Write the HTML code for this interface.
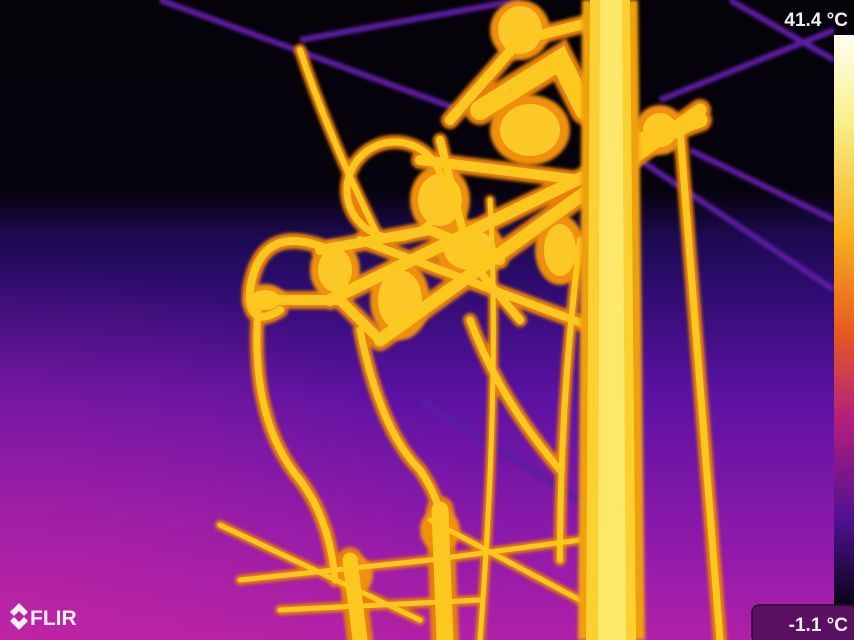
<!DOCTYPE html>
<html><head><meta charset="utf-8"><style>
html,body{margin:0;padding:0;width:854px;height:640px;overflow:hidden;background:#000}
svg{display:block}
</style></head><body>
<svg width="854" height="640" viewBox="0 0 854 640">
<defs>
<linearGradient id="bg" x1="0" y1="0" x2="0" y2="1">
<stop offset="0" stop-color="#050208"/>
<stop offset="0.3" stop-color="#07030e"/>
<stop offset="0.37" stop-color="#1c0a50"/>
<stop offset="0.45" stop-color="#2e0c70"/>
<stop offset="0.62" stop-color="#5c12a2"/>
<stop offset="0.8" stop-color="#8418aa"/>
<stop offset="1" stop-color="#b020a8"/>
</linearGradient>
<radialGradient id="pink" cx="0" cy="1" r="0.6">
<stop offset="0" stop-color="#c828a0" stop-opacity="0.6"/>
<stop offset="1" stop-color="#c828a0" stop-opacity="0"/>
</radialGradient>
<linearGradient id="scale" x1="0" y1="0" x2="0" y2="1">
<stop offset="0" stop-color="#fffff0"/>
<stop offset="0.15" stop-color="#f8f08a"/>
<stop offset="0.35" stop-color="#f8b020"/>
<stop offset="0.52" stop-color="#e85a20"/>
<stop offset="0.68" stop-color="#b01e80"/>
<stop offset="0.85" stop-color="#501090"/>
<stop offset="1" stop-color="#0a0418"/>
</linearGradient>
<filter id="blur"><feGaussianBlur stdDeviation="1.5"/></filter>
</defs>
<rect width="854" height="640" fill="url(#bg)"/>
<rect width="854" height="640" fill="url(#pink)"/>
<g stroke="#5a1aa0" stroke-width="6" fill="none" filter="url(#blur)">
<line x1="160" y1="0" x2="460" y2="110"/>
<line x1="300" y1="40" x2="520" y2="0"/>
<line x1="640" y1="160" x2="834" y2="290"/>
<line x1="690" y1="150" x2="834" y2="220"/>
<line x1="660" y1="100" x2="834" y2="30"/>
<line x1="730" y1="0" x2="834" y2="60"/>
<line x1="420" y1="400" x2="580" y2="500"/>
</g>
<g stroke="#e8800a" fill="none" stroke-linecap="round" filter="url(#blur)">
<path d="M300 50 Q330 140 380 240" stroke-width="12"/>
<path d="M380 340 L700 110" stroke-width="22"/>
<path d="M330 300 L690 125" stroke-width="20"/>
<path d="M360 240 L600 330" stroke-width="16"/>
<path d="M450 120 L520 40 L600 20" stroke-width="18"/>
<circle cx="395" cy="190" r="48" stroke-width="14"/>
<path d="M330 250 Q260 220 250 290 Q248 330 280 310" stroke-width="16"/>
<path d="M258 310 Q250 420 300 480 Q330 520 335 580" stroke-width="14"/>
<path d="M360 330 Q380 430 420 470 Q440 500 440 520" stroke-width="14"/>
<path d="M470 320 Q500 400 560 470" stroke-width="14"/>
<path d="M490 200 Q500 380 480 640" stroke-width="10"/>
<path d="M580 240 Q560 400 560 560" stroke-width="12"/>
<path d="M220 525 L420 620" stroke-width="10"/>
<path d="M240 580 L430 560 L580 540" stroke-width="10"/>
<path d="M440 510 L445 640" stroke-width="28"/>
<path d="M350 560 L360 640" stroke-width="26"/>
<path d="M280 610 L480 600" stroke-width="10"/>
<path d="M430 520 L580 600" stroke-width="10"/>
<path d="M480 110 L560 60 L585 110" stroke-width="30"/>
<path d="M440 140 L470 260 L520 320" stroke-width="14"/>
<path d="M680 130 L720 640" stroke-width="14"/>
<path d="M640 140 L700 120" stroke-width="24"/>
<path d="M260 300 L340 300 L380 340" stroke-width="18"/>
<path d="M320 250 L430 230 L500 260" stroke-width="18"/>
<path d="M420 160 L580 180" stroke-width="18"/>
</g>
<g fill="#f09010" filter="url(#blur)">
<ellipse cx="265" cy="300" rx="22" ry="16"/>
<ellipse cx="335" cy="270" rx="25" ry="30"/>
<ellipse cx="400" cy="300" rx="30" ry="40"/>
<ellipse cx="440" cy="200" rx="30" ry="35"/>
<ellipse cx="470" cy="250" rx="35" ry="30"/>
<ellipse cx="530" cy="130" rx="40" ry="35"/>
<ellipse cx="520" cy="30" rx="30" ry="30"/>
<ellipse cx="560" cy="250" rx="25" ry="35"/>
<ellipse cx="660" cy="130" rx="25" ry="25"/>
<ellipse cx="440" cy="530" rx="20" ry="22"/>
<ellipse cx="355" cy="575" rx="18" ry="20"/>
</g>
<g fill="#fcc828">
<ellipse cx="265" cy="300" rx="15" ry="10"/>
<ellipse cx="335" cy="270" rx="17" ry="22"/>
<ellipse cx="400" cy="300" rx="22" ry="30"/>
<ellipse cx="440" cy="200" rx="22" ry="26"/>
<ellipse cx="470" cy="250" rx="26" ry="20"/>
<ellipse cx="530" cy="130" rx="30" ry="26"/>
<ellipse cx="520" cy="30" rx="22" ry="24"/>
<ellipse cx="560" cy="250" rx="16" ry="26"/>
<ellipse cx="660" cy="130" rx="17" ry="17"/>
</g>
<g stroke="#fcc820" fill="none" stroke-linecap="round">
<path d="M300 50 Q330 140 380 240" stroke-width="6"/>
<path d="M380 340 L700 110" stroke-width="13"/>
<path d="M330 300 L690 125" stroke-width="12"/>
<path d="M360 240 L600 330" stroke-width="8"/>
<path d="M450 120 L520 40 L600 20" stroke-width="10"/>
<circle cx="395" cy="190" r="48" stroke-width="7"/>
<path d="M330 250 Q260 220 250 290 Q248 330 280 310" stroke-width="8"/>
<path d="M258 310 Q250 420 300 480 Q330 520 335 580" stroke-width="7"/>
<path d="M360 330 Q380 430 420 470 Q440 500 440 520" stroke-width="7"/>
<path d="M470 320 Q500 400 560 470" stroke-width="7"/>
<path d="M490 200 Q500 380 480 640" stroke-width="5"/>
<path d="M580 240 Q560 400 560 560" stroke-width="6"/>
<path d="M220 525 L420 620" stroke-width="5"/>
<path d="M240 580 L430 560 L580 540" stroke-width="5"/>
<path d="M440 510 L445 640" stroke-width="17"/>
<path d="M350 560 L360 640" stroke-width="15"/>
<path d="M280 610 L480 600" stroke-width="5"/>
<path d="M430 520 L580 600" stroke-width="5"/>
<path d="M480 110 L560 60 L585 110" stroke-width="20"/>
<path d="M440 140 L470 260 L520 320" stroke-width="8"/>
<path d="M680 130 L720 640" stroke-width="7"/>
<path d="M640 140 L700 120" stroke-width="15"/>
<path d="M260 300 L340 300 L380 340" stroke-width="10"/>
<path d="M320 250 L430 230 L500 260" stroke-width="10"/>
<path d="M420 160 L580 180" stroke-width="10"/>
</g>
<g>
<polygon points="582,0 638,0 645,640 578,640" fill="#f0a010" filter="url(#blur)"/>
<polygon points="590,0 630,0 636,640 586,640" fill="#fbd030"/>
<polygon points="600,0 622,0 626,640 598,640" fill="#fde86a"/>
</g>
<rect x="834" y="35" width="20" height="570" fill="url(#scale)"/>
<text x="848" y="26" text-anchor="end" font-family="Liberation Sans, sans-serif" font-weight="bold" font-size="19" fill="#f0f0f0">41.4 °C</text>
<rect x="752" y="605" width="104" height="38" rx="7" fill="#5a1060" stroke="#2a0830" stroke-width="1.5"/>
<text x="848" y="631" text-anchor="end" font-family="Liberation Sans, sans-serif" font-weight="bold" font-size="19" fill="#f0f0f0">-1.1 °C</text>
<g fill="#f4f0f4">
<path d="M19 603 L28 612 L24 616 L19 611 L14 616 L10 612 Z"/>
<path d="M19 630 L10 621 L14 617 L19 622 L24 617 L28 621 Z"/>
<text x="30" y="625" font-family="Liberation Sans, sans-serif" font-weight="bold" font-size="21">FLIR</text>
</g>
</svg>
</body></html>
